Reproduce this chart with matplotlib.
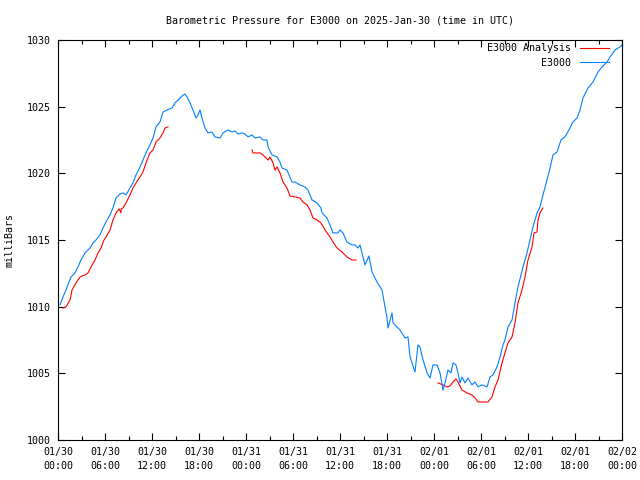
import numpy as np
import pandas as pd
import matplotlib
matplotlib.use("Agg")
import matplotlib.pyplot as plt
import matplotlib.dates as mdates

# --------------------------
# Data (hours after 2025-01-30 00:00 UTC, pressure in mb)
# --------------------------
START = pd.Timestamp("2025-01-30 00:00")

obs_hours = [0.26, 0.64, 1.02, 1.40, 1.66, 2.17, 2.55, 2.94, 3.45, 4.09, 4.47, 4.85,
             5.36, 5.74, 6.13, 6.64, 7.02, 7.40, 7.91, 8.30, 8.68, 9.19, 9.57, 9.96,
             10.47, 10.85, 11.23, 11.74, 12.13, 12.51, 13.02, 13.40, 13.91, 14.55, 14.94,
             15.32, 15.83, 16.21, 16.47, 16.85, 17.23, 17.62, 17.87, 18.13, 18.38, 18.77,
             19.15, 19.66, 20.04, 20.68, 21.06, 21.70, 22.21, 22.60, 22.98, 23.49, 23.87,
             24.26, 24.77, 25.15, 25.79, 26.17, 26.68, 26.81, 27.32, 27.96, 28.34, 28.60,
             29.23, 29.87, 30.26, 30.89, 31.53, 31.91, 32.43, 33.06, 33.57, 33.70, 34.34,
             34.72, 35.11, 35.74, 36.00, 36.38, 36.89, 37.53, 37.91, 38.30, 38.55, 39.19,
             39.70, 40.09, 40.72, 41.36, 41.74, 42.00, 42.13, 42.64, 42.77, 43.66, 44.30,
             44.68, 44.94, 45.57, 45.96, 46.21, 46.60, 47.11, 47.49, 47.87, 48.38, 48.77,
             49.15, 49.40, 49.79, 50.17, 50.43, 50.81, 51.06, 51.32, 51.57, 51.96, 52.34,
             52.85, 53.23, 53.62, 54.13, 54.77, 55.15, 55.53, 56.04, 56.43, 56.81, 57.06,
             57.45, 57.96, 58.34, 58.72, 59.36, 59.87, 60.26, 60.64, 61.15, 61.53, 61.91,
             62.43, 62.81, 63.19, 63.70, 64.21, 64.72, 65.36, 65.74, 66.26, 66.64, 67.02,
             67.66, 68.30, 68.94, 69.45, 70.09, 70.47, 71.11, 71.74, 72.00]
obs_mb = [1010.13, 1010.73, 1011.25, 1011.85, 1012.23, 1012.53, 1012.98, 1013.50, 1014.03,
          1014.40, 1014.78, 1015.00, 1015.38, 1015.90, 1016.35, 1016.88, 1017.40, 1018.15,
          1018.45, 1018.53, 1018.38, 1018.90, 1019.28, 1019.88, 1020.48, 1021.00, 1021.53,
          1022.13, 1022.65, 1023.48, 1023.85, 1024.60, 1024.75, 1024.90, 1025.28, 1025.50,
          1025.80, 1025.95, 1025.73, 1025.28, 1024.75, 1024.15, 1024.38, 1024.75, 1024.15,
          1023.40, 1023.03, 1023.10, 1022.73, 1022.65, 1023.03, 1023.25, 1023.10, 1023.18,
          1022.95, 1023.03, 1022.95, 1022.73, 1022.88, 1022.65, 1022.73, 1022.50, 1022.50,
          1021.98, 1021.38, 1021.23, 1020.85, 1020.40, 1020.25, 1019.35, 1019.35, 1019.13,
          1018.98, 1018.75, 1018.00, 1017.78, 1017.40, 1017.03, 1016.65, 1016.13, 1015.53,
          1015.53, 1015.75, 1015.53, 1014.85, 1014.63, 1014.63, 1014.40, 1014.63, 1013.13,
          1013.80, 1012.60, 1011.85, 1011.25, 1009.98, 1009.15, 1008.40, 1009.53, 1008.78,
          1008.25, 1007.65, 1007.73, 1006.23, 1005.10, 1007.13, 1006.98, 1006.00, 1005.03,
          1004.65, 1005.63, 1005.63, 1005.03, 1003.75, 1004.28, 1005.25, 1005.03, 1005.78,
          1005.63, 1005.03, 1004.28, 1004.73, 1004.28, 1004.65, 1004.13, 1004.35, 1003.98,
          1004.13, 1003.98, 1004.73, 1004.88, 1005.48, 1006.23, 1007.13, 1007.50, 1008.48,
          1009.00, 1010.28, 1011.48, 1012.98, 1014.03, 1015.00, 1015.98, 1017.03, 1017.48,
          1018.38, 1019.50, 1020.40, 1021.38, 1021.60, 1022.50, 1022.73, 1023.40, 1023.85,
          1024.15, 1024.75, 1025.65, 1026.40, 1026.85, 1027.60, 1027.98, 1028.35, 1028.73,
          1029.25, 1029.48, 1029.63]

# analysis comes in three separate pieces
ana1_hours = [0.64, 1.02, 1.53, 1.79, 2.30, 2.81, 3.45, 3.83, 4.21, 4.72, 5.11, 5.49, 5.87,
              6.13, 6.64, 7.02, 7.40, 7.79, 8.04, 8.05, 8.30, 8.68, 9.19, 9.57, 9.96, 10.47,
              10.85, 11.23, 11.74, 12.13, 12.51, 13.02, 13.40, 13.66, 14.04]
ana1_mb = [1009.90, 1009.98, 1010.50, 1011.25, 1011.78, 1012.23, 1012.38, 1012.53, 1012.98,
           1013.50, 1014.03, 1014.40, 1015.00, 1015.23, 1015.75, 1016.50, 1017.03, 1017.33,
           1017.03, 1017.33, 1017.40, 1017.78, 1018.38, 1018.90, 1019.28, 1019.73, 1020.10,
           1020.78, 1021.53, 1021.75, 1022.35, 1022.65, 1023.03, 1023.40, 1023.48]

ana2_hours = [24.77, 24.89, 25.79, 26.17, 26.81, 27.06, 27.45, 27.70, 27.96, 28.34, 28.72,
              29.23, 29.62, 30.26, 30.89, 31.28, 31.79, 32.17, 32.55, 33.06, 33.57, 34.09,
              34.72, 35.11, 35.62, 36.26, 36.89, 37.53, 38.04]
ana2_mb = [1021.75, 1021.53, 1021.53, 1021.38, 1021.00, 1021.23, 1020.78, 1020.25, 1020.48,
           1020.03, 1019.35, 1018.90, 1018.30, 1018.23, 1018.15, 1017.85, 1017.63, 1017.25,
           1016.65, 1016.50, 1016.28, 1015.75, 1015.23, 1014.85, 1014.40, 1014.10, 1013.73,
           1013.50, 1013.50]

ana3_hours = [48.51, 49.15, 49.66, 50.04, 50.43, 50.81, 51.06, 51.57, 52.21, 52.85, 53.23,
              53.62, 54.89, 55.40, 55.79, 56.17, 56.68, 57.06, 57.45, 57.96, 58.34, 58.72,
              59.23, 59.62, 60.00, 60.51, 60.77, 61.15, 61.28, 61.53, 61.91]
ana3_mb = [1004.28, 1004.13, 1003.98, 1004.05, 1004.35, 1004.58, 1004.35, 1003.75, 1003.53,
           1003.38, 1003.15, 1002.85, 1002.85, 1003.23, 1003.98, 1004.50, 1005.78, 1006.53,
           1007.28, 1007.73, 1008.78, 1010.28, 1011.25, 1012.23, 1013.50, 1014.48, 1015.53,
           1015.60, 1016.50, 1017.03, 1017.40]


def to_time(hours):
    return START + pd.to_timedelta(np.array(hours), unit="h")


FONT = "DejaVu Sans Mono"
FS = 7.2
RED = "#ff0000"
BLUE = "#0080ff"

plt.rcParams["font.family"] = FONT
plt.rcParams["font.size"] = FS

fig = plt.figure(figsize=(6.4, 4.8), dpi=100)
ax = fig.add_axes([58 / 640, 40 / 480, 564 / 640, 400 / 480])

lw = 0.8
ax.plot(to_time(ana1_hours), ana1_mb, color=RED, lw=lw, label="E3000 Analysis")
ax.plot(to_time(ana2_hours), ana2_mb, color=RED, lw=lw)
ax.plot(to_time(ana3_hours), ana3_mb, color=RED, lw=lw)
ax.plot(to_time(obs_hours), obs_mb, color=BLUE, lw=lw, label="E3000")

ax.set_xlim(START, START + pd.Timedelta(hours=72))
ax.set_ylim(1000, 1030)
ax.set_yticks(np.arange(1000, 1031, 5))

ax.xaxis.set_major_locator(mdates.HourLocator(byhour=range(0, 24, 6)))
ax.xaxis.set_minor_locator(mdates.HourLocator(byhour=range(0, 24, 3)))
ax.xaxis.set_major_formatter(mdates.DateFormatter("%m/%d\n%H:%M"))

ax.tick_params(which="both", direction="in", top=True, right=True, width=0.8,
               labelsize=FS, pad=5)
ax.tick_params(which="major", length=5)
ax.tick_params(which="minor", length=3)
for lab in ax.get_xticklabels():
    lab.set_linespacing(1.45)
for sp in ax.spines.values():
    sp.set_linewidth(0.8)

ax.set_ylabel("milliBars", fontsize=FS, labelpad=9)
ax.set_title("Barometric Pressure for E3000 on 2025-Jan-30 (time in UTC)",
             fontsize=FS, pad=12)

ax.legend(loc="upper right", bbox_to_anchor=(0.977, 0.992), frameon=False,
          markerfirst=False, fontsize=FS, handlelength=2.9, handletextpad=0.9,
          borderaxespad=0, borderpad=0, labelspacing=0.45)

fig.savefig("out.png", dpi=100)
